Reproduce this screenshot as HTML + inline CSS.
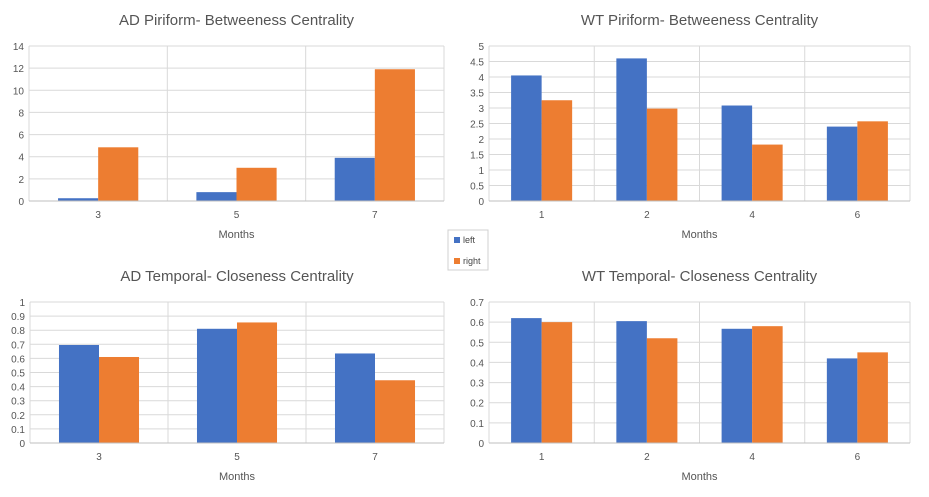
<!DOCTYPE html>
<html><head><meta charset="utf-8"><style>
body{margin:0;background:#fff;font-family:"Liberation Sans",sans-serif;}
svg text{font-family:"Liberation Sans",sans-serif;}
</style></head><body>
<svg id="s" width="929" height="492" xmlns="http://www.w3.org/2000/svg">
<rect width="929" height="492" fill="#fff"/>
<g>
<rect x="448" y="230" width="40" height="40" fill="#fff" stroke="#d0d0d0"/>
<rect x="454" y="237" width="6" height="6" fill="#4472c4"/>
<text x="463" y="243" font-size="9" fill="#444">left</text>
<rect x="454" y="258" width="6" height="6" fill="#ed7d31"/>
<text x="463" y="264" font-size="9" fill="#444">right</text>
</g>
</svg>
<script>
const adPirCats=["3","5","7"];
const adPirLeft=[0.25,0.8,3.9];
const adPirRight=[4.85,3.0,11.9];
const adPirTicks=["0","2","4","6","8","10","12","14"];
const wtPirCats=["1","2","4","6"];
const wtPirLeft=[4.05,4.6,3.08,2.4];
const wtPirRight=[3.25,2.98,1.82,2.57];
const wtPirTicks=["0","0.5","1","1.5","2","2.5","3","3.5","4","4.5","5"];
const adTemCats=["3","5","7"];
const adTemLeft=[0.695,0.81,0.635];
const adTemRight=[0.61,0.855,0.445];
const adTemTicks=["0","0.1","0.2","0.3","0.4","0.5","0.6","0.7","0.8","0.9","1"];
const wtTemCats=["1","2","4","6"];
const wtTemLeft=[0.62,0.605,0.567,0.42];
const wtTemRight=[0.60,0.52,0.58,0.45];
const wtTemTicks=["0","0.1","0.2","0.3","0.4","0.5","0.6","0.7"];

const NS="http://www.w3.org/2000/svg";
const svg=document.getElementById('s');
function mk(tag,attrs,parent){const e=document.createElementNS(NS,tag);for(const k in attrs)e.setAttribute(k,attrs[k]);parent.appendChild(e);return e;}

function chart(id,title,cats,left,right,ticks,L,R,T,B,titleY){
  const g=mk('g',{},svg);
  
  
  const max=parseFloat(ticks[ticks.length-1]);
  const y=v=>B-(v/max)*(B-T);
  const cw=(R-L)/cats.length;
  const x=i=>L+cw*i;
  ticks.forEach(t=>{
    const v=parseFloat(t);
    const ln=mk('line',{x1:L,x2:R,y1:y(v),y2:y(v),stroke:'#d9d9d9','stroke-width':1},g);
    
    
    const tx=mk('text',{x:L-5,y:y(v)+4,'font-size':10,fill:'#555','text-anchor':'end'},g);
    tx.textContent=t;
    
    
  });
  for(let i=0;i<=cats.length;i++){
    const vl=mk('line',{x1:x(i),x2:x(i),y1:T,y2:B,stroke:'#d9d9d9','stroke-width':1},g);
    
    
  }
  const bw=cw*0.29;
  cats.forEach((c,i)=>{
    const cx=x(i)+cw/2;
    const b1=mk('rect',{x:cx-bw,y:y(left[i]),width:bw,height:B-y(left[i]),fill:'#4472c4'},g);
    
    
    const b2=mk('rect',{x:cx,y:y(right[i]),width:bw,height:B-y(right[i]),fill:'#ed7d31'},g);
    
    
    const tx=mk('text',{x:cx,y:B+17,'font-size':10,fill:'#555','text-anchor':'middle'},g);
    tx.textContent=c;
    
    
  });
  const ax=mk('line',{x1:L,x2:R,y1:B,y2:B,stroke:'#bfbfbf','stroke-width':1},g);
  
  
  const xt=mk('text',{x:(L+R)/2,y:B+37,'font-size':11,fill:'#555','text-anchor':'middle'},g);
  xt.textContent='Months';
  
  
  const tt=mk('text',{x:(L+R)/2,y:titleY,'font-size':15,fill:'#555','text-anchor':'middle'},g);
  tt.textContent=title;
  
  
}
chart('ad-piriform-chart','AD Piriform- Betweeness Centrality',adPirCats,adPirLeft,adPirRight,adPirTicks,29,444,46,201,25);
chart('wt-piriform-chart','WT Piriform- Betweeness Centrality',wtPirCats,wtPirLeft,wtPirRight,wtPirTicks,489,910,46,201,25);
chart('ad-temporal-chart','AD Temporal- Closeness Centrality',adTemCats,adTemLeft,adTemRight,adTemTicks,30,444,302,443,281);
chart('wt-temporal-chart','WT Temporal- Closeness Centrality',wtTemCats,wtTemLeft,wtTemRight,wtTemTicks,489,910,302,443,281);
</script>
</body></html>
